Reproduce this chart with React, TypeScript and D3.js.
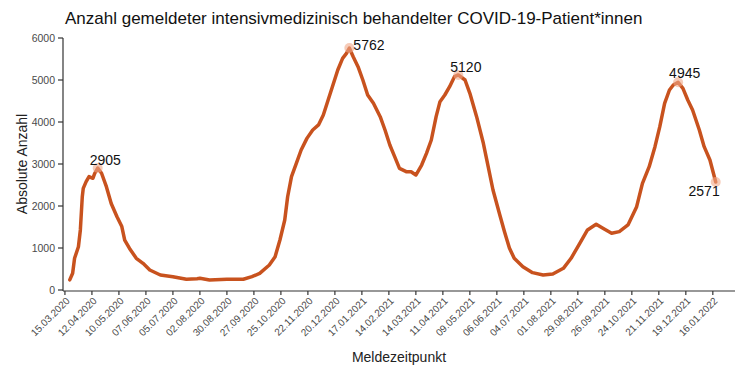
import React from "react";
import * as d3 from "d3";

const dates: string[] = [
  "2020-03-20","2020-03-23","2020-03-25","2020-03-29","2020-03-31","2020-04-02","2020-04-03","2020-04-06",
  "2020-04-09","2020-04-13","2020-04-15","2020-04-18","2020-04-22","2020-04-27","2020-05-02","2020-05-08",
  "2020-05-13","2020-05-16","2020-05-21","2020-05-28","2020-06-04","2020-06-11","2020-06-22","2020-07-05",
  "2020-07-19","2020-07-30","2020-08-02","2020-08-12","2020-08-30","2020-09-16","2020-09-25","2020-10-03",
  "2020-10-13","2020-10-19","2020-10-24","2020-10-29","2020-11-01","2020-11-05","2020-11-10","2020-11-15",
  "2020-11-21","2020-11-27","2020-12-03","2020-12-08","2020-12-13","2020-12-18","2020-12-23","2020-12-28",
  "2021-01-01","2021-01-04","2021-01-08","2021-01-13","2021-01-18","2021-01-23","2021-01-29","2021-02-05",
  "2021-02-10","2021-02-15","2021-02-20","2021-02-25","2021-03-04","2021-03-09","2021-03-14","2021-03-20",
  "2021-03-25","2021-03-30","2021-04-04","2021-04-08","2021-04-13","2021-04-18","2021-04-23","2021-04-27",
  "2021-05-04","2021-05-09","2021-05-16","2021-05-23","2021-05-28","2021-06-02","2021-06-09","2021-06-14",
  "2021-06-19","2021-06-24","2021-07-03","2021-07-13","2021-07-24","2021-08-03","2021-08-14","2021-08-22",
  "2021-08-31","2021-09-08","2021-09-17","2021-09-24","2021-10-03","2021-10-11","2021-10-20","2021-10-29",
  "2021-11-04","2021-11-11","2021-11-17","2021-11-22","2021-11-27","2021-12-02","2021-12-06","2021-12-11",
  "2021-12-16","2021-12-21","2021-12-26","2022-01-02","2022-01-07","2022-01-13","2022-01-19"
];

const values: number[] = [
  240,400,755,1030,1430,2220,2420,2580,
  2700,2660,2780,2905,2780,2460,2060,1745,
  1510,1190,990,755,635,476,357,317,
  255,270,278,238,255,255,317,397,
  595,793,1190,1667,2220,2700,3017,3333,
  3610,3810,3930,4167,4524,4880,5238,5516,
  5635,5762,5555,5317,5000,4643,4445,4127,
  3810,3452,3175,2897,2817,2817,2738,2976,
  3254,3571,4127,4484,4643,4840,5079,5120,
  5000,4683,4127,3493,2936,2381,1790,1380,
  1000,755,555,413,357,381,516,755,
  1111,1429,1564,1468,1350,1389,1548,1984,
  2540,2936,3413,3889,4445,4762,4881,4945,
  4802,4524,4286,3810,3413,3095,2571
];

const annDates: string[] = ["2020-04-18", "2021-01-04", "2021-04-27", "2021-12-11", "2022-01-19"];
const annValues: number[] = [2905, 5762, 5120, 4945, 2571];

const xTickDates: string[] = [
  "2020-03-15","2020-04-12","2020-05-10","2020-06-07","2020-07-05","2020-08-02","2020-08-30",
  "2020-09-27","2020-10-25","2020-11-22","2020-12-20","2021-01-17","2021-02-14","2021-03-14",
  "2021-04-11","2021-05-09","2021-06-06","2021-07-04","2021-08-01","2021-08-29","2021-09-26",
  "2021-10-24","2021-11-21","2021-12-19","2022-01-16"
];
const yTicks: number[] = [0, 1000, 2000, 3000, 4000, 5000, 6000];

const title = "Anzahl gemeldeter intensivmedizinisch behandelter COVID-19-Patient*innen";
const yTitle = "Absolute Anzahl";
const xTitle = "Meldezeitpunkt";

const parse = d3.utcParse("%Y-%m-%d");
const fmt = d3.utcFormat("%d.%m.%Y");

export default function App() {
  const W = 740, H = 367;
  const x = d3.scaleUtc().domain([parse("2020-03-13")!, parse("2022-02-08")!]).range([63, 735]);
  const y = d3.scaleLinear().domain([0, 6000]).range([290, 38]);
  const pts = dates.map((d, i) => ({ d: parse(d)!, v: values[i] }));
  const line = d3.line<{ d: Date; v: number }>().x(p => x(p.d)).y(p => y(p.v));
  const font = "'Liberation Sans', Arial, sans-serif";
  const offs = [
    { dx: -8, dy: -3, anchor: "start" },
    { dx: 4, dy: 2, anchor: "start" },
    { dx: -8, dy: -3, anchor: "start" },
    { dx: -9, dy: -4, anchor: "start" },
    { dx: 4, dy: 14, anchor: "end" },
  ];
  return (
    <svg width={W} height={H} style={{ position: "absolute", left: 0, top: 0, background: "#fff" }} fontFamily={font}>
      <text x={65} y={24} fontSize={17} fill="#111">{title}</text>
      {/* y axis */}
      <line x1={63} x2={63} y1={y(6000)} y2={291} stroke="#333" strokeWidth={1.2} />
      {yTicks.map(t => (
        <g key={t}>
          <line x1={58} x2={63} y1={y(t)} y2={y(t)} stroke="#333" strokeWidth={1.2} />
          <text x={55} y={y(t)} dy="0.35em" textAnchor="end" fontSize={10.5} fill="#4a4a4a">{t}</text>
        </g>
      ))}
      <text transform={`translate(27,${(y(0) + y(6000)) / 2}) rotate(-90)`} textAnchor="middle" fontSize={14} fill="#222">{yTitle}</text>
      {/* x axis */}
      <line x1={63} x2={735} y1={291} y2={291} stroke="#333" strokeWidth={1.2} />
      {xTickDates.map(t => {
        const px = x(parse(t)!);
        return (
          <g key={t}>
            <line x1={px} x2={px} y1={291} y2={295} stroke="#333" strokeWidth={1.2} />
            <text transform={`translate(${px + 3},${299}) rotate(-45)`} textAnchor="end" dy="0.35em" fontSize={10} fill="#4a4a4a">{fmt(parse(t)!)}</text>
          </g>
        );
      })}
      <text x={399} y={362} textAnchor="middle" fontSize={14} fill="#222">{xTitle}</text>
      {/* data */}
      <path d={line(pts) || ""} fill="none" stroke="#c8521e" strokeWidth={3.5} strokeLinejoin="round" strokeLinecap="round" />
      {annDates.map((d, i) => {
        const px = x(parse(d)!), py = y(annValues[i]);
        const o = offs[i];
        return (
          <g key={d}>
            <circle cx={px} cy={py} r={5} fill="#f0a888" fillOpacity={0.6} />
            <text x={px + o.dx} y={py + o.dy} textAnchor={o.anchor as any} fontSize={14} fill="#111">{annValues[i]}</text>
          </g>
        );
      })}
    </svg>
  );
}
